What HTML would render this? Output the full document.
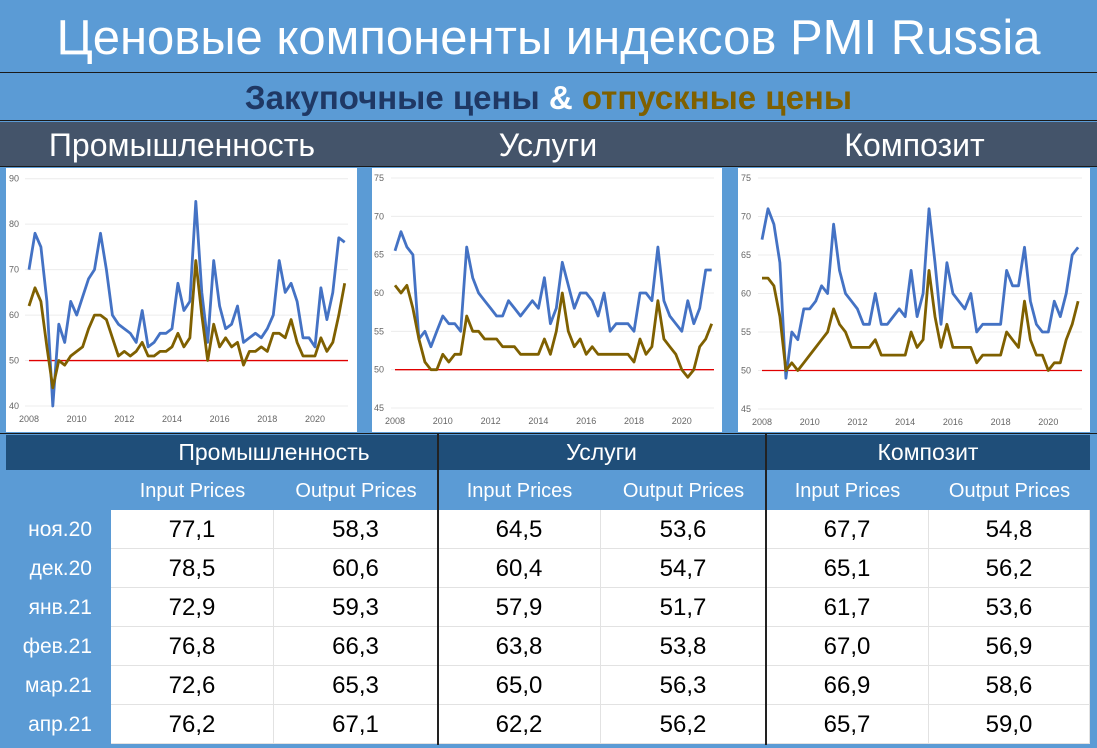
<!DOCTYPE html>
<html><head><meta charset="utf-8">
<style>
*{margin:0;padding:0;box-sizing:border-box}
body{width:1097px;height:748px;background:#5B9BD5;position:relative;overflow:hidden;font-family:"Liberation Sans","DejaVu Sans",sans-serif}
.abs{position:absolute}
#title{left:0;top:0;width:1097px;height:71px;color:#fff;font-size:49px;text-align:center;line-height:76px;white-space:nowrap}
#sub{left:0;top:72px;width:1097px;height:49px;border-top:1.5px solid #1a1a1a;border-bottom:1.5px solid #1a1a1a;text-align:center;font-weight:bold;font-size:33px;line-height:50px;white-space:nowrap}
#band{left:0;top:122px;width:1097px;height:45px;background:#44546A;border-bottom:1.5px solid #1a1a1a}
.bt{position:absolute;top:0;color:#fff;font-size:32px;line-height:46px;text-align:center;white-space:nowrap}
.panel{position:absolute;top:168px;height:264px;background:#fff}
#tbl{left:0;top:433px;width:1097px;height:315px;border-top:1.5px solid #1a1a1a}
.navy{position:absolute;top:1px;height:35px;background:#1F4E79;color:#fff;font-size:23px;text-align:center;line-height:34px}
.sh{position:absolute;top:37px;height:38px;color:#fff;font-size:20px;text-align:center;line-height:40px}
.lab{position:absolute;left:6px;width:86px;color:#fff;font-size:21px;text-align:right;height:39px;line-height:40px}
.cell{position:absolute;height:39px;background:#fff;font-size:24px;text-align:center;line-height:40px;color:#000;border-bottom:1.5px solid #e2e2e2;border-right:1.5px solid #e2e2e2}
.vl{position:absolute;top:0;width:1.5px;height:311px;background:#222}
</style></head><body>
<div id="title" class="abs">Ценовые компоненты индексов PMI Russia</div>
<div id="sub" class="abs"><span style="color:#1F3864">Закупочные цены</span> <span style="color:#fff">&amp;</span> <span style="color:#7F6000">отпускные цены</span></div>
<div id="band" class="abs">
 <div class="bt" style="left:0;width:364px">Промышленность</div>
 <div class="bt" style="left:366px;width:364px">Услуги</div>
 <div class="bt" style="left:732px;width:365px">Композит</div>
</div>
<div class="panel" style="left:6px;width:351px"></div>
<div class="panel" style="left:372px;width:350px"></div>
<div class="panel" style="left:738px;width:352px"></div>
<svg id="charts" class="abs" style="left:0;top:0" width="1097" height="748"></svg>

<div id="tbl" class="abs">
 <div class="navy" style="left:6px;width:1084px"></div>
 <div class="navy" style="left:111px;width:326px;background:none">Промышленность</div>
 <div class="navy" style="left:438px;width:327px;background:none">Услуги</div>
 <div class="navy" style="left:766px;width:324px;background:none">Композит</div>
 <div id="rows"></div>
 <div class="vl" style="left:437px"></div>
 <div class="vl" style="left:765px"></div>
</div>

<script>
const NS='http://www.w3.org/2000/svg';
const dates=[];for(let i=0;i<54;i++)dates.push(2008+i*0.25);
const indInput=[70,78,75,63,40,58,54,63,60,64,68,70,78,70,60,58,57,56,54,61,53,54,56,56,57,67,61,63,85,65,54,72,62,57,58,62,54,55,56,55,57,60,72,65,67,63,55,55,53,66,59,65,77,76];
const indOutput=[62,66,63,53,44,50,49,51,52,53,57,60,60,59,55,51,52,51,52,54,51,51,52,52,53,56,53,55,72,60,50,58,53,55,53,54,49,52,52,53,52,56,56,55,59,54,51,51,51,55,52,54,60,67];
const srvInput=[65.5,68,66,65,54,55,53,55,57,56,56,55,66,62,60,59,58,57,57,59,58,57,58,59,58,62,56,58,64,61,58,60,60,59,57,60,55,56,56,56,55,60,60,59,66,59,57,56,55,59,56,58,63,63];
const srvOutput=[61,60,61,58,54,51,50,50,52,51,52,52,57,55,55,54,54,54,53,53,53,52,52,52,52,54,52,55,60,55,53,54,52,53,52,52,52,52,52,52,51,54,52,53,59,54,53,52,50,49,50,53,54,56];
const cmpInput=[67,71,69,64,49,55,54,58,58,59,61,60,69,63,60,59,58,56,56,60,56,56,57,58,57,63,57,60,71,64,56,64,60,59,58,60,55,56,56,56,56,63,61,61,66,59,56,55,55,59,57,60,65,66];
const cmpOutput=[62,62,61,57,50,51,50,51,52,53,54,55,58,56,55,53,53,53,53,54,52,52,52,52,52,55,53,54,63,57,53,56,53,53,53,53,51,52,52,52,52,55,54,53,59,54,52,52,50,51,51,54,56,59];
const xTickLabels=['2008','2010','2012','2014','2016','2018','2020'];
const yTicks1=[40,50,60,70,80,90];
const yTicks2=[45,50,55,60,65,70,75];
const refLevel=50;

const svg=document.getElementById('charts');
function mk(tag,attrs){const e=document.createElementNS(NS,tag);for(const k in attrs)e.setAttribute(k,attrs[k]);svg.appendChild(e);return e;}
function drawChart(id,cfg,inp,out,yt){
  const xs=v=>cfg.x0+(v-2008)*cfg.xpy;
  const ys=v=>cfg.yTop+(cfg.yMax-v)*(cfg.yBot-cfg.yTop)/(cfg.yMax-cfg.yMin);
  yt.forEach(t=>{
    const g=mk('line',{x1:cfg.x0-4,x2:cfg.xR,y1:ys(t),y2:ys(t),stroke:'#ececec','stroke-width':1});
    
    
    const l=mk('text',{x:cfg.lx,y:ys(t)+3,'font-size':9,fill:'#666','font-family':'Liberation Sans, sans-serif'});
    l.textContent=t;
    
    
  });
  xTickLabels.forEach(t=>{
    const l=mk('text',{x:xs(+t),y:cfg.yBot+16,'font-size':9,fill:'#666','text-anchor':'middle','font-family':'Liberation Sans, sans-serif'});
    l.textContent=t;
    
    
  });
  const r=mk('line',{x1:cfg.x0,x2:cfg.xR,y1:ys(refLevel),y2:ys(refLevel),stroke:'#E00000','stroke-width':1.3});
  
  
  [[inp,'#4472C4','input-prices-line'],[out,'#7F6000','output-prices-line']].forEach(([arr,col,nm])=>{
    const p=mk('polyline',{points:arr.map((v,i)=>xs(dates[i]).toFixed(1)+','+ys(v).toFixed(1)).join(' '),fill:'none',stroke:col,'stroke-width':2.8,'stroke-linejoin':'round'});
    
    
  });
}
drawChart('industry',{x0:29,xpy:23.83,xR:348,yTop:178.7,yBot:406,yMin:40,yMax:90,lx:9},indInput,indOutput,yTicks1);
drawChart('services',{x0:395,xpy:23.9,xR:714,yTop:178,yBot:408,yMin:45,yMax:75,lx:374},srvInput,srvOutput,yTicks2);
drawChart('composite',{x0:762,xpy:23.86,xR:1082,yTop:178,yBot:409,yMin:45,yMax:75,lx:741},cmpInput,cmpOutput,yTicks2);

const months=['ноя.20','дек.20','янв.21','фев.21','мар.21','апр.21'];
const tableVals=[
 ['77,1','58,3','64,5','53,6','67,7','54,8'],
 ['78,5','60,6','60,4','54,7','65,1','56,2'],
 ['72,9','59,3','57,9','51,7','61,7','53,6'],
 ['76,8','66,3','63,8','53,8','67,0','56,9'],
 ['72,6','65,3','65,0','56,3','66,9','58,6'],
 ['76,2','67,1','62,2','56,2','65,7','59,0']];
const colX=[111,274,438,601,766,929,1090];
const rows=document.getElementById('rows');
for(let c=0;c<6;c++){
  const h=document.createElement('div');
  h.className='sh';h.style.left=colX[c]+'px';h.style.width=(colX[c+1]-colX[c])+'px';
  h.textContent=c%2==0?'Input Prices':'Output Prices';
  
  
  rows.appendChild(h);
}
months.forEach((m,r)=>{
  const top=76+r*39;
  const l=document.createElement('div');
  l.className='lab';l.style.top=top+'px';l.textContent=m;
  
  
  rows.appendChild(l);
  for(let c=0;c<6;c++){
    const d=document.createElement('div');
    d.className='cell';d.style.top=top+'px';d.style.left=colX[c]+'px';d.style.width=(colX[c+1]-colX[c])+'px';
    d.textContent=tableVals[r][c];
    
    
    rows.appendChild(d);
  }
});
</script>
</body></html>
